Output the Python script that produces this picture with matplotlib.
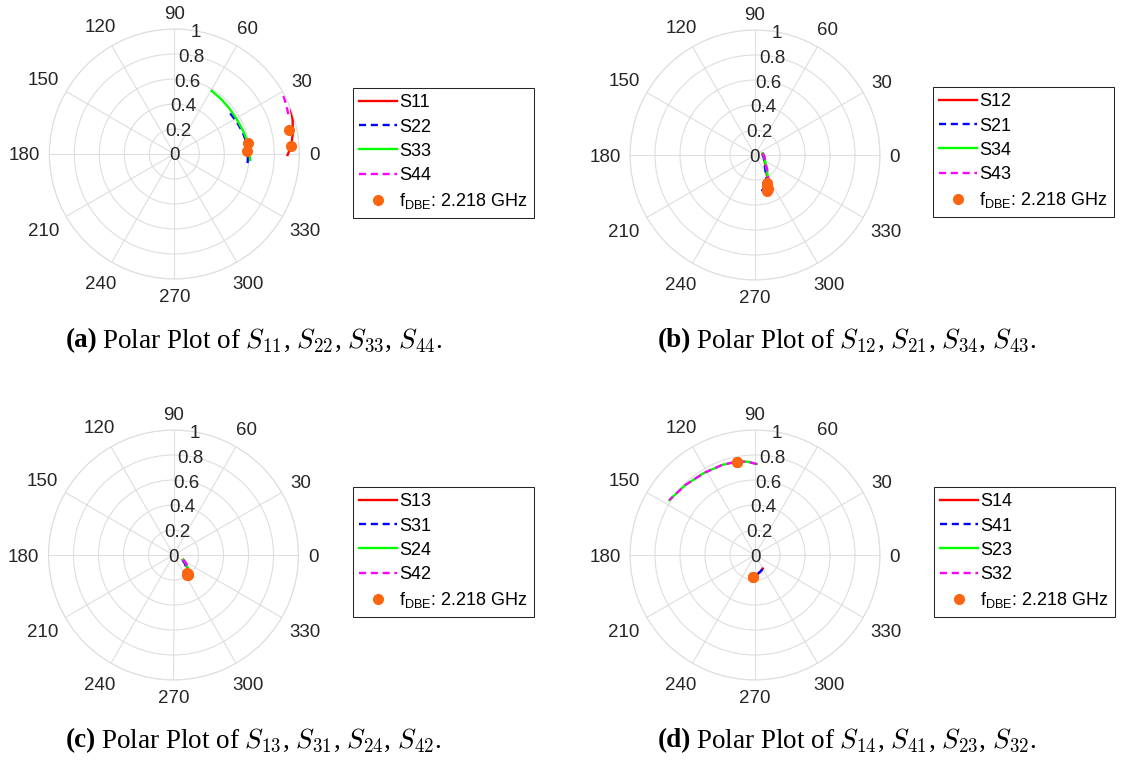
import numpy as np
import matplotlib.pyplot as plt

plt.rcParams['font.family'] = ['Liberation Sans', 'DejaVu Sans']
plt.rcParams['mathtext.fontset'] = 'custom'
plt.rcParams['mathtext.rm'] = 'Liberation Sans'
plt.rcParams['mathtext.it'] = 'Liberation Sans:italic'

# angles in degrees, magnitudes |S|
# (a) S11, S22, S33, S44
s11_ang = [21, 16, 10, 4, -0.5]
s11_mag = [1.0, 0.985, 0.963, 0.938, 0.906]
s22_ang = [36, 27, 18, 9, 0, -10]
s22_mag = [0.553, 0.562, 0.574, 0.585, 0.59, 0.594]
s33_ang = [59.4, 50, 40, 29, 18, 8, -4.5]
s33_mag = [0.587, 0.578, 0.572, 0.572, 0.582, 0.597, 0.609]
s44_ang = [28, 24, 20, 17]
s44_mag = [0.99, 0.978, 0.968, 0.96]
dbe_a_ang = [3.9, 2.6, 8.8, 11.8]
dbe_a_mag = [0.938, 0.586, 0.593, 0.94]

# (b) S12, S21, S34, S43
s12_ang = [10, -15, -40, -55, -63, -66]
s12_mag = [0.062, 0.075, 0.104, 0.158, 0.22, 0.245]
s21_ang = [8, -17, -42, -57, -65, -72, -79.6]
s21_mag = [0.06, 0.074, 0.102, 0.155, 0.218, 0.265, 0.295]
s34_ang = [12, -13, -38, -53, -62, -69]
s34_mag = [0.064, 0.077, 0.106, 0.16, 0.222, 0.266]
s43_ang = [13, -12, -37, -52, -61, -69]
s43_mag = [0.065, 0.078, 0.107, 0.161, 0.223, 0.291]
dbe_b_ang = [-66, -72, -69, -69]
dbe_b_mag = [0.245, 0.307, 0.266, 0.291]

# (c) S13, S31, S24, S42
s13_ang = [-27, -35, -43, -52]
s13_mag = [0.085, 0.115, 0.152, 0.18]
s31_ang = [-29, -37, -45, -56]
s31_mag = [0.083, 0.113, 0.15, 0.195]
s24_ang = [-26, -34, -42, -53]
s24_mag = [0.087, 0.117, 0.155, 0.19]
s42_ang = [-25, -33, -41, -55]
s42_mag = [0.088, 0.118, 0.155, 0.2]
dbe_c_ang = [-52, -56, -53, -55]
dbe_c_mag = [0.18, 0.195, 0.19, 0.2]

# (d) S14, S41, S23, S32
s14_ang = [-60, -70, -80, -90, -96]
s14_mag = [0.125, 0.137, 0.15, 0.163, 0.174]
s41_ang = [-62, -72, -82, -91, -96]
s41_mag = [0.128, 0.14, 0.153, 0.165, 0.174]
s23_ang = [88.9, 95, 101, 110, 122, 135, 147.3]
s23_mag = [0.728, 0.75, 0.761, 0.767, 0.773, 0.79, 0.814]
s32_ang = [88.9, 95, 101, 110, 122, 135, 147.3]
s32_mag = [0.728, 0.75, 0.761, 0.767, 0.773, 0.79, 0.814]
dbe_d_ang = [-96, -96, 101, 101]
dbe_d_mag = [0.174, 0.174, 0.761, 0.761]

f_dbe = 2.218  # GHz

W, H = 1129, 765
R = 125  # radius of unit circle in px
GRID = '#dedede'
TXT = '#262626'
ORANGE = '#fc6510'
colors = ['#ff0000', '#0000ff', '#00ff00', '#ff00ff']
styles = ['-', (0, (3.0, 2.0)), '-', (0, (3.0, 2.0))]

fig = plt.figure(figsize=(W / 100, H / 100), dpi=100)


def polar_panel(cx, cy, traces, names, dbe_ang, dbe_mag, lx, ly):
    ax = fig.add_axes([(cx - R) / W, (H - cy - R) / H, 2 * R / W, 2 * R / H],
                      projection='polar')
    ax.set_ylim(0, 1)
    ax.set_thetagrids(range(0, 360, 30), labels=[])
    ax.set_rgrids([0.2, 0.4, 0.6, 0.8, 1.0], labels=[])
    ax.grid(color=GRID, lw=0.8)
    ax.spines['polar'].set_color(GRID)
    ax.spines['polar'].set_linewidth(0.8)
    ax.tick_params(length=0)

    for (ang, mag), name, col, ls in zip(traces, names, colors, styles):
        ax.plot(np.deg2rad(ang), mag, color=col, ls=ls, lw=1.7, label=name)
    ax.plot(np.deg2rad(dbe_ang), dbe_mag, 'o', color=ORANGE, ms=7, ls='none',
            label=r'f$_{\mathrm{DBE}}$: %.3f GHz' % f_dbe)

    # angle labels outside the circle
    for a in range(0, 360, 30):
        s = str(a)
        t = np.deg2rad(a)
        d = 134.5 + abs(np.cos(t)) * len(s) * 10.4 / 2 + abs(np.sin(t)) * 13.4 / 2
        ax.text(t, d / R, s, ha='center', va='center_baseline',
                fontsize=13.5, color=TXT)
    # radial labels along 80 deg
    for r in [0, 0.2, 0.4, 0.6, 0.8, 1.0]:
        ax.text(np.deg2rad(80), r, f'{r:g}', ha='center', va='center_baseline',
                fontsize=13.5, color=TXT)

    leg = ax.legend(loc='upper left', bbox_to_anchor=(lx / W, 1 - ly / H),
                    bbox_transform=fig.transFigure, borderaxespad=0,
                    fancybox=False, edgecolor=TXT, framealpha=1, fontsize=13,
                    handlelength=2.1, handletextpad=0.1, labelspacing=0.4,
                    borderpad=0.35, numpoints=1)
    leg.get_frame().set_linewidth(0.75)
    return ax


def caption(xc, yb, tag, rest):
    t1 = fig.text(0, 1 - yb / H, tag, fontsize=19.5, fontweight='bold',
                  family='Liberation Serif', va='baseline')
    t2 = fig.text(0, 1 - yb / H, rest, fontsize=19.5, family='Liberation Serif',
                  math_fontfamily='cm', va='baseline')
    rend = fig.canvas.get_renderer()
    w1 = t1.get_window_extent(rend).width
    w2 = t2.get_window_extent(rend).width
    gap = 5
    x0 = xc - (w1 + gap + w2) / 2
    t1.set_x(x0 / W)
    t2.set_x((x0 + w1 + gap) / W)


polar_panel(174.3, 154, [(s11_ang, s11_mag), (s22_ang, s22_mag),
                         (s33_ang, s33_mag), (s44_ang, s44_mag)],
            ['S11', 'S22', 'S33', 'S44'], dbe_a_ang, dbe_a_mag, 353, 88)
polar_panel(755, 155, [(s12_ang, s12_mag), (s21_ang, s21_mag),
                       (s34_ang, s34_mag), (s43_ang, s43_mag)],
            ['S12', 'S21', 'S34', 'S43'], dbe_b_ang, dbe_b_mag, 933, 87)
polar_panel(173.5, 555, [(s13_ang, s13_mag), (s31_ang, s31_mag),
                         (s24_ang, s24_mag), (s42_ang, s42_mag)],
            ['S13', 'S31', 'S24', 'S42'], dbe_c_ang, dbe_c_mag, 353, 487)
polar_panel(755, 555, [(s14_ang, s14_mag), (s41_ang, s41_mag),
                       (s23_ang, s23_mag), (s32_ang, s32_mag)],
            ['S14', 'S41', 'S23', 'S32'], dbe_d_ang, dbe_d_mag, 934, 487)

caption(254, 347, '(a)', r'Polar Plot of $S_{11}$, $S_{22}$, $S_{33}$, $S_{44}$.')
caption(847, 347, '(b)', r'Polar Plot of $S_{12}$, $S_{21}$, $S_{34}$, $S_{43}$.')
caption(254, 747, '(c)', r'Polar Plot of $S_{13}$, $S_{31}$, $S_{24}$, $S_{42}$.')
caption(847, 747, '(d)', r'Polar Plot of $S_{14}$, $S_{41}$, $S_{23}$, $S_{32}$.')

fig.savefig('out.png', dpi=100, facecolor='white')
